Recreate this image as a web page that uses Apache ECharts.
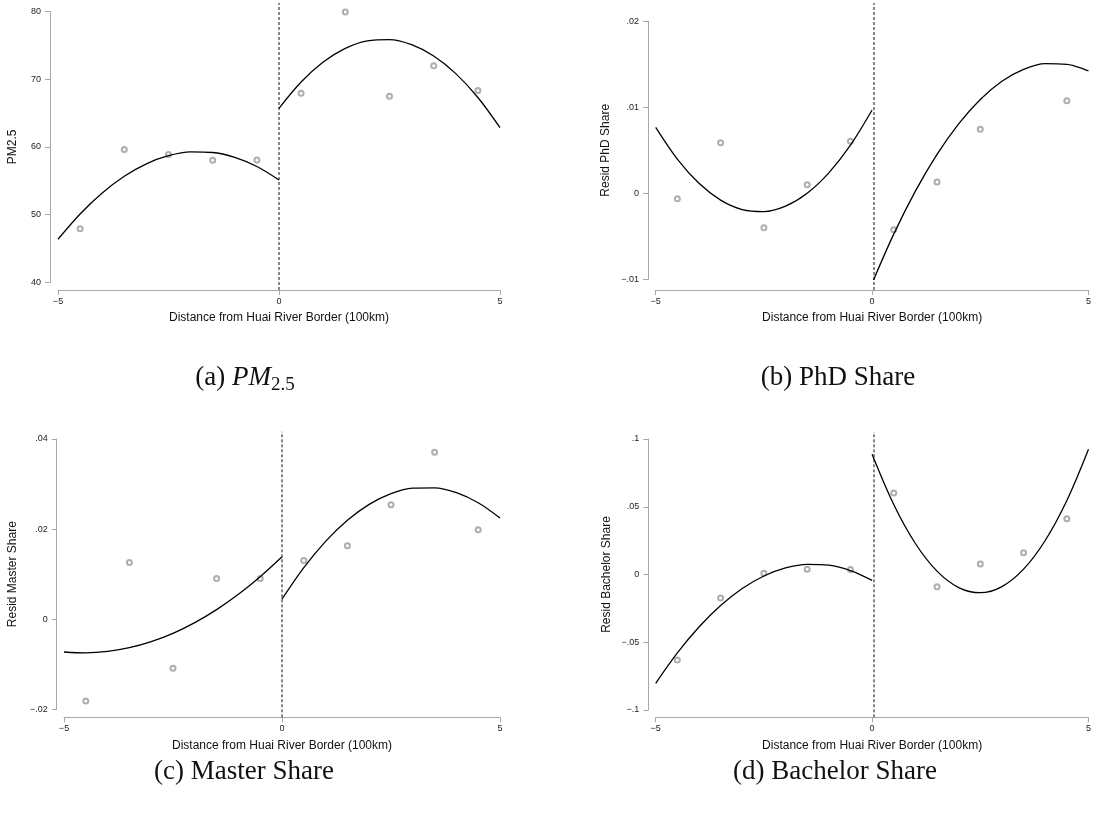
<!DOCTYPE html>
<html>
<head>
<meta charset="utf-8">
<script src="https://cdn.jsdelivr.net/npm/echarts@6/dist/echarts.min.js"></script>
<style>
html,body{margin:0;padding:0;background:#fff;}
#chart{width:1094px;height:818px;}
</style>
</head>
<body>
<div id="chart"></div>
<script>
// ---- data ----
const cutoff = 0;
const xBins = [-4.5, -3.5, -2.5, -1.5, -0.5, 0.5, 1.5, 2.5, 3.5, 4.5];
const fitXLeft = [-5, -4.5, -4, -3.5, -3, -2.5, -2, -1.5, -1, -0.5, 0];
const fitXRight = [0, 0.5, 1, 1.5, 2, 2.5, 3, 3.5, 4, 4.5, 5];
const xTickLabels = ['\u22125', '0', '5'];

// (a) PM2.5
const pmPts = [47.9, 59.6, 58.85, 58.0, 58.05, 67.9, 79.9, 67.45, 71.95, 68.3];
const pmFitLeft = [46.35, 50.09, 53.19, 55.66, 57.49, 58.68, 59.24, 59.16, 58.44, 57.09, 55.1];
const pmFitRight = [65.68, 69.56, 72.52, 74.54, 75.65, 75.82, 75.07, 73.40, 70.80, 67.28, 62.82];
const pmYTicks = ['40', '50', '60', '70', '80'];

// (b) Resid PhD Share
const phdPts = [-0.00063, 0.00588, -0.0040, 0.0010, 0.00605, -0.00423, 0.00131, 0.00744, 0.02116, 0.01077];
const phdFitLeft = [0.00767, 0.00398, 0.00116, -0.00079, -0.00189, -0.00212, -0.00149, 0.00001, 0.00238, 0.0056, 0.00969];
const phdFitRight = [-0.01047, -0.00475, 0.00025, 0.00453, 0.00808, 0.01091, 0.01302, 0.0144, 0.01507, 0.0150, 0.01422];
const phdYTicks = ['\u2212.01', '0', '.01', '.02'];

// (c) Resid Master Share
const masterPts = [-0.01815, 0.0126, -0.01089, 0.00904, 0.00904, 0.01304, 0.0163, 0.0254, 0.03704, 0.01985];
const masterFitLeft = [-0.00728, -0.00748, -0.00716, -0.00633, -0.00498, -0.00313, -0.00076, 0.00213, 0.00552, 0.00943, 0.01385];
const masterFitRight = [0.00444, 0.01144, 0.01728, 0.02197, 0.0255, 0.02788, 0.0291, 0.02917, 0.02808, 0.02584, 0.02244];
const masterYTicks = ['\u2212.02', '0', '.02', '.04'];

// (d) Resid Bachelor Share
const bachPts = [-0.0631, -0.01734, 0.0009, 0.0038, 0.0036, 0.0601, -0.009, 0.00775, 0.0161, 0.0412];
const bachFitLeft = [-0.0803, -0.05787, -0.03873, -0.02289, -0.01034, -0.00109, 0.00486, 0.00751, 0.00687, 0.00293, -0.00431];
const bachFitRight = [0.0887, 0.05164, 0.02289, 0.00246, -0.00965, -0.01344, -0.00891, 0.00394, 0.02511, 0.0546, 0.0924];
const bachYTicks = ['\u2212.1', '\u2212.05', '0', '.05', '.1'];

const xName = 'Distance from Huai River Border (100km)';

// ---- layout ----
const panels = [
  { pts: pmPts, fl: pmFitLeft, fr: pmFitRight, ticks: pmYTicks, min: 40, max: 80, interval: 10, yName: 'PM2.5', nameGap: 31,
    left: 58, right: 500, top: 11.3, bottom: 282.3, yAxisX: 50, xAxisY: 290, lineTop: 3 },
  { pts: phdPts, fl: phdFitLeft, fr: phdFitRight, ticks: phdYTicks, min: -0.01, max: 0.02, interval: 0.01, yName: 'Resid PhD Share', nameGap: 36,
    left: 655.7, right: 1092.3, top: 21.3, bottom: 279.3, yAxisX: 648, xAxisY: 290, lineTop: 3 },
  { pts: masterPts, fl: masterFitLeft, fr: masterFitRight, ticks: masterYTicks, min: -0.02, max: 0.04, interval: 0.02, yName: 'Resid Master Share', nameGap: 38,
    left: 64, right: 500, top: 439, bottom: 709.3, yAxisX: 56.7, xAxisY: 717.3, lineTop: 431.7 },
  { pts: bachPts, fl: bachFitLeft, fr: bachFitRight, ticks: bachYTicks, min: -0.1, max: 0.1, interval: 0.05, yName: 'Resid Bachelor Share', nameGap: 36,
    left: 655.7, right: 1092.3, top: 439, bottom: 710, yAxisX: 648.3, xAxisY: 717.3, lineTop: 432 }
];

const axisGrey = '#a8a8a8';
const sans = '"Liberation Sans", Arial, Helvetica, sans-serif';
const grid = [], xAxis = [], yAxis = [], series = [];

panels.forEach((p, i) => {
  grid.push({ left: p.left, top: p.top, width: p.right - p.left, height: p.bottom - p.top, containLabel: false });
  grid.push({ left: p.left, top: p.lineTop, width: p.right - p.left, height: p.xAxisY - p.lineTop, containLabel: false });
  const gMain = 2 * i, gLine = 2 * i + 1;

  xAxis.push({
    gridIndex: gMain, type: 'value', min: -5, max: 5, interval: 5,
    offset: p.xAxisY - p.bottom,
    axisLine: { show: true, onZero: false, lineStyle: { color: axisGrey, width: 1 } },
    axisTick: { show: true, length: 5, lineStyle: { color: axisGrey } },
    splitLine: { show: false },
    axisLabel: {
      margin: 7, fontSize: 9, color: '#222', fontFamily: sans,
      formatter: v => xTickLabels[Math.round((v + 5) / 5)]
    },
    name: xName, nameLocation: 'middle', nameGap: 22,
    nameTextStyle: { fontSize: 12, color: '#111', fontFamily: sans }
  });
  yAxis.push({
    gridIndex: gMain, type: 'value', min: p.min, max: p.max, interval: p.interval,
    offset: p.left - p.yAxisX,
    axisLine: { show: true, onZero: false, lineStyle: { color: axisGrey, width: 1 } },
    axisTick: { show: true, length: 5, lineStyle: { color: axisGrey } },
    splitLine: { show: false },
    axisLabel: {
      margin: 9, fontSize: 9, color: '#222', fontFamily: sans,
      formatter: v => p.ticks[Math.round((v - p.min) / p.interval)]
    },
    name: p.yName, nameLocation: 'middle', nameRotate: 90, nameGap: p.nameGap,
    nameTextStyle: { fontSize: 12, color: '#111', fontFamily: sans }
  });
  xAxis.push({ gridIndex: gLine, type: 'value', min: -5, max: 5, show: false });
  yAxis.push({ gridIndex: gLine, type: 'value', min: 0, max: 1, show: false });

  const ax = 2 * i;
  series.push({
    type: 'line', xAxisIndex: ax + 1, yAxisIndex: ax + 1,
    data: [[cutoff, 0], [cutoff, 1]], symbol: 'none', silent: true,
    lineStyle: { color: '#111', width: 1, type: [3, 2] }, z: 1
  });
  series.push({
    type: 'scatter', xAxisIndex: ax, yAxisIndex: ax,
    data: xBins.map((x, k) => [x, p.pts[k]]),
    symbol: 'emptyCircle', symbolSize: 5,
    itemStyle: { color: '#9a9a9a', borderWidth: 0.7 }, z: 3
  });
  series.push({
    type: 'line', xAxisIndex: ax, yAxisIndex: ax,
    data: fitXLeft.map((x, k) => [x, p.fl[k]]),
    symbol: 'none', smooth: 0.34, lineStyle: { color: '#000', width: 1.3 }, z: 4
  });
  series.push({
    type: 'line', xAxisIndex: ax, yAxisIndex: ax,
    data: fitXRight.map((x, k) => [x, p.fr[k]]),
    symbol: 'none', smooth: 0.34, lineStyle: { color: '#000', width: 1.3 }, z: 4
  });
});

const serif = '"Liberation Serif", "Times New Roman", serif';
const capStyle = (text, x, y) => ({
  type: 'text', x: x, y: y,
  style: {
    text: text, align: 'center', verticalAlign: 'middle',
    font: '27px ' + serif, fill: '#111',
    rich: {
      n: { fontSize: 27, fontFamily: serif, lineHeight: 30, verticalAlign: 'bottom' },
      i: { fontSize: 27, fontFamily: serif, fontStyle: 'italic', lineHeight: 30, verticalAlign: 'bottom' },
      s: { fontSize: 19, fontFamily: serif, lineHeight: 30, height: 12, verticalAlign: 'bottom' }
    }
  }
});

const option = {
  backgroundColor: '#fff',
  animation: false,
  grid: grid, xAxis: xAxis, yAxis: yAxis, series: series,
  graphic: [
    capStyle('{n|(a) }{i|PM}{s|2.5}', 245, 376),
    capStyle('{n|(b) PhD Share}', 838, 376),
    capStyle('{n|(c) Master Share}', 244, 770),
    capStyle('{n|(d) Bachelor Share}', 835, 770)
  ]
};
const chart = echarts.init(document.getElementById('chart'), null, { renderer: 'canvas' });
chart.setOption(option);
</script>
</body>
</html>
